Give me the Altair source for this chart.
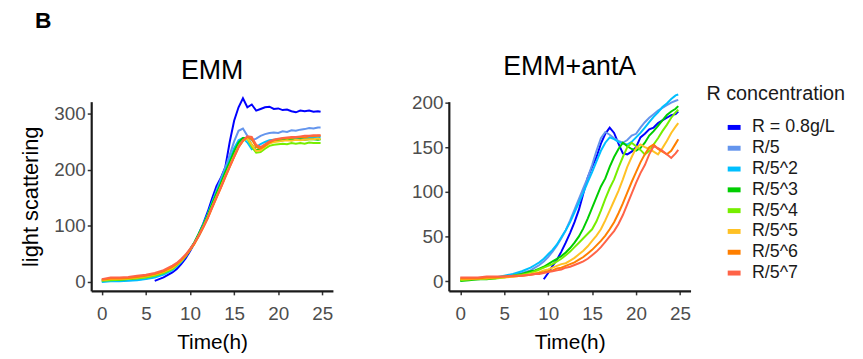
import altair as alt
import pandas as pd

TIME = [0, 1, 2, 3, 4, 5, 6, 7, 8, 8.5, 9, 9.5, 10, 10.5, 11, 11.5, 12, 12.5, 13, 13.5,
        14, 14.5, 15, 15.5, 16, 16.5, 17, 17.5, 18, 18.5, 19, 19.5, 20, 20.5, 21, 21.5,
        22, 22.5, 23, 23.5, 24, 24.5, 24.8]

SERIES = ["R = 0.8g/L", "R/5", "R/5^2", "R/5^3", "R/5^4", "R/5^5", "R/5^6", "R/5^7"]
COLORS = ["#0000FF", "#6495ED", "#00BFFF", "#00CD00", "#76EE00", "#FFC125", "#FF7F00", "#FF6347"]

N = None
# EMM panel
EMM_R0 = [N, N, N, N, N, N, 2, 8, 17, 23, 32, 42, 55, 69, 86, 104, 125, 149, 171, 186,
          205, 250, 288, 312, 328, 312, 317, 306, 309, 312, 313, 309, 310, 307, 308, 305,
          303, 306, 305, 306, 304, 305, 304]
EMM_R1 = [1, 2, 2, 3, 4, 6, 9, 14, 22, 28, 36, 46, 58, 70, 82, 99, 118, 141, 163, 184,
          204, 227, 251, 270, 274, 261, 253, 256, 261, 264, 266, 267, 266, 269, 268, 271,
          270, 272, 273, 275, 274, 276, 276]
EMM_R2 = [0, 1, 1, 2, 3, 5, 8, 13, 21, 28, 36, 46, 58, 71, 86, 103, 121, 142, 161, 180,
          199, 218, 239, 253, 257, 249, 237, 241, 246, 250, 253, 254, 255, 256, 255, 257,
          256, 257, 258, 257, 258, 259, 259]
EMM_R3 = [3, 4, 4, 5, 7, 9, 12, 17, 24, 31, 38, 47, 58, 71, 86, 102, 119, 139, 158, 176,
          196, 214, 233, 249, 257, 257, 245, 235, 239, 245, 249, 251, 252, 253, 254, 253,
          254, 255, 254, 255, 255, 254, 255]
EMM_R4 = [2, 3, 4, 5, 6, 8, 11, 16, 23, 30, 37, 46, 57, 69, 84, 99, 116, 135, 153, 171,
          190, 208, 226, 243, 253, 256, 241, 231, 232, 238, 243, 245, 246, 247, 246, 248,
          247, 248, 247, 249, 248, 248, 248]
EMM_R5 = [3, 5, 5, 6, 8, 10, 13, 18, 25, 31, 38, 47, 57, 69, 83, 98, 115, 134, 152, 170,
          189, 207, 224, 241, 252, 257, 245, 234, 235, 242, 247, 250, 251, 252, 253, 252,
          254, 253, 254, 255, 255, 256, 255]
EMM_R6 = [4, 6, 6, 7, 9, 11, 14, 19, 27, 32, 39, 47, 57, 68, 82, 97, 113, 132, 150, 168,
          187, 205, 223, 240, 252, 259, 255, 241, 238, 243, 249, 253, 255, 256, 257, 257,
          258, 259, 258, 260, 260, 261, 261]
EMM_R7 = [5, 8, 8, 9, 11, 13, 16, 21, 29, 34, 41, 49, 59, 70, 83, 98, 114, 133, 151, 169,
          188, 206, 224, 241, 253, 260, 259, 245, 241, 246, 251, 254, 256, 257, 258, 259,
          259, 260, 261, 261, 262, 262, 262]

# EMM+antA panel
ANT_R0 = [N, N, N, N, N, N, N, N, N, N, N, 2, 9, 17, 24, 33, 43, 54, 66, 80,
          98, 116, 128, 139, 154, 165, 172, 166, 154, 143, 142, 145, 150, 161, 165, 170,
          172, 177, 180, 183, 186, 187, 190]
ANT_R1 = [1, 2, 2, 3, 4, 5, 7, 9, 12, 15, 18, 22, 27, 33, 40, 48, 57, 68, 80, 92,
          104, 116, 130, 146, 160, 167, 164, 160, 157, 155, 158, 163, 165, 172, 178, 183,
          187, 191, 194, 197, 200, 202, 203]
ANT_R2 = [1, 2, 3, 3, 4, 6, 8, 11, 15, 18, 21, 25, 30, 35, 41, 49, 57, 66, 77, 88,
          99, 111, 122, 134, 146, 155, 161, 159, 156, 154, 153, 156, 161, 166, 172, 178,
          184, 189, 195, 199, 204, 208, 209]
ANT_R3 = [0, 1, 2, 2, 3, 5, 6, 8, 11, 12, 14, 16, 19, 22, 25, 28, 32, 37, 43, 50,
          59, 70, 82, 94, 106, 115, 128, 139, 148, 155, 151, 148, 146, 149, 155, 163,
          168, 174, 180, 186, 190, 193, 196]
ANT_R4 = [1, 2, 2, 3, 3, 4, 6, 7, 9, 11, 13, 15, 17, 19, 22, 25, 29, 33, 38, 43,
          48, 53, 58, 67, 79, 92, 104, 114, 127, 139, 150, 155, 151, 147, 142, 146,
          153, 160, 168, 175, 183, 189, 192]
ANT_R5 = [2, 2, 3, 3, 4, 4, 5, 6, 8, 9, 10, 12, 13, 15, 17, 19, 20, 23, 26, 30,
          34, 39, 45, 51, 58, 68, 79, 90, 101, 114, 128, 139, 149, 153, 150, 148,
          145, 142, 149, 157, 166, 173, 177]
ANT_R6 = [3, 3, 3, 4, 4, 5, 5, 6, 7, 8, 9, 10, 11, 12, 14, 15, 17, 19, 21, 24,
          27, 31, 35, 40, 45, 51, 58, 66, 76, 87, 99, 111, 122, 133, 142, 150,
          153, 148, 145, 142, 146, 154, 159]
ANT_R7 = [4, 4, 4, 5, 5, 5, 6, 6, 7, 8, 8, 9, 10, 11, 12, 13, 15, 16, 18, 20,
          22, 25, 29, 33, 38, 44, 50, 56, 64, 74, 86, 98, 110, 121, 130, 142,
          151, 149, 146, 142, 138, 143, 147]

EMM = [EMM_R0, EMM_R1, EMM_R2, EMM_R3, EMM_R4, EMM_R5, EMM_R6, EMM_R7]
ANT = [ANT_R0, ANT_R1, ANT_R2, ANT_R3, ANT_R4, ANT_R5, ANT_R6, ANT_R7]

X_TICKS = [0, 5, 10, 15, 20, 25]
EMM_Y_TICKS = [0, 100, 200, 300]
ANT_Y_TICKS = [0, 50, 100, 150, 200]


def to_frame(block):
    rows = []
    for si, (name, vals) in enumerate(zip(SERIES, block)):
        for t, v in zip(TIME, vals):
            if v is not None:
                rows.append({"series": name, "order": si, "time": t, "value": v})
    return pd.DataFrame(rows)


FONT = "Liberation Sans"

color = alt.Color(
    "series:N",
    scale=alt.Scale(domain=SERIES, range=COLORS),
    sort=SERIES,
    legend=alt.Legend(
        title="R concentration",
        orient="none",
        legendX=621,
        legendY=-18,
        symbolType="stroke",
        symbolStrokeWidth=5,
        symbolSize=169,
        symbolOffset=19,
        labelOffset=9,
        labelFontSize=18,
        labelFont=FONT,
        labelColor="#1a1a1a",
        titleFontSize=20,
        titleFont=FONT,
        titleFontWeight="normal",
        titleColor="#1a1a1a",
        titlePadding=15,
        rowPadding=1,
    ),
)


def panel(df, title, xdom, ydom, yticks, ytitle, width):
    if ytitle:
        yaxis = alt.Axis(values=yticks, title=ytitle, titleFontSize=22, titlePadding=12)
    else:
        yaxis = alt.Axis(values=yticks, title=None)
    return (
        alt.Chart(df)
        .mark_line(strokeWidth=2, clip=False)
        .encode(
            x=alt.X("time:Q", scale=alt.Scale(domain=xdom, nice=False, zero=False),
                    axis=alt.Axis(values=X_TICKS, title="Time(h)", labelPadding=10,
                                  titlePadding=8)),
            y=alt.Y("value:Q", scale=alt.Scale(domain=ydom, nice=False, zero=False),
                    axis=yaxis),
            color=color,
            detail="order:O",
        )
        .properties(
            width=width,
            height=191,
            title=alt.TitleParams(title, fontSize=27, font=FONT, fontWeight="normal",
                                  color="#000000", anchor="middle", baseline="alphabetic",
                                  offset=-11),
        )
    )


left = panel(to_frame(EMM), "EMM", [-1.2, 26.2], [-16, 322], EMM_Y_TICKS,
             "light scattering", 244)
right = panel(to_frame(ANT), "EMM+antA", [-1.3, 26.2], [-11, 201], ANT_Y_TICKS, None, 244)

chart = (
    alt.hconcat(left, right, spacing=79)
    .properties(
        title=alt.TitleParams("B", anchor="start", fontSize=23, fontWeight="bold",
                              font=FONT, color="#000000", dx=16, offset=20),
        padding={"left": 84, "top": 92, "right": 771, "bottom": 259},
        autosize=alt.AutoSizeParams(type="none"),
    )
    .configure_view(stroke=None)
    .configure_axis(
        grid=False,
        domainColor="#1a1a1a",
        domainWidth=2.2,
        tickColor="#333333",
        tickWidth=1.5,
        tickSize=4,
        labelPadding=2,
        labelFont=FONT,
        labelFontSize=19,
        labelColor="#4d4d4d",
        titleFont=FONT,
        titleFontSize=21,
        titleFontWeight="normal",
        titleColor="#000000",
    )
)

chart.save("out.html", embed_options={"renderer": "svg", "actions": False})
